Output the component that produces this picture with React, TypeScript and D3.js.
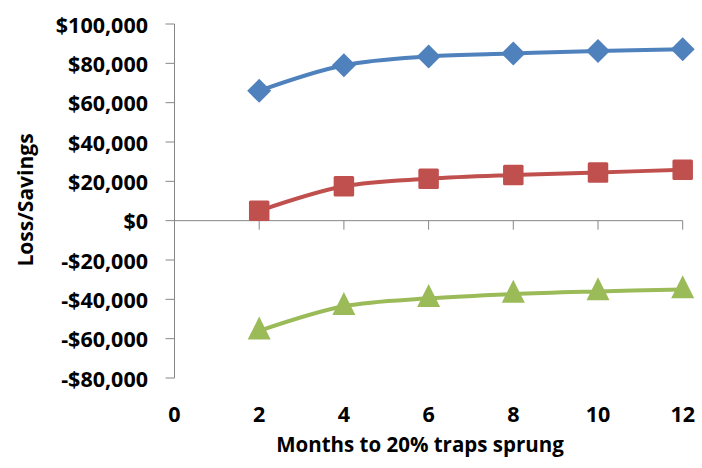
import React from "react";
import * as d3 from "d3";

const months = [2, 4, 6, 8, 10, 12];
const seriesBlue = [66000, 79000, 83500, 85000, 86300, 87100];
const seriesRed = [5000, 17500, 21300, 23200, 24500, 25900];
const seriesGreen = [-56000, -43500, -39500, -37300, -36000, -35000];
const yTicks = [100000, 80000, 60000, 40000, 20000, 0, -20000, -40000, -60000, -80000];
const xTicks = [0, 2, 4, 6, 8, 10, 12];

const W = 702;
const H = 468;
const FONT = "'Open Sans', sans-serif";

export default function App() {
  const x = d3.scaleLinear().domain([0, 12]).range([174.5, 682.7]);
  const y = d3.scaleLinear().domain([-80000, 100000]).range([378, 24]);
  const line = d3
    .line<number>()
    .x((_, i) => x(months[i]))
    .y((d) => y(d))
    .curve(d3.curveCatmullRom.alpha(0.5));
  const fmt = (v: number) =>
    (v < 0 ? "-$" : "$") + d3.format(",")(Math.abs(v));
  const axisColor = "#868686";

  const series = [
    { data: seriesBlue, color: "#4F81BD", shape: "diamond" },
    { data: seriesRed, color: "#C0504D", shape: "square" },
    { data: seriesGreen, color: "#9BBB59", shape: "triangle" },
  ];

  const marker = (shape: string, cx: number, cy: number, color: string, key: string) => {
    if (shape === "diamond") {
      const r = 12;
      return (
        <path key={key} d={`M${cx},${cy - r}L${cx + r},${cy}L${cx},${cy + r}L${cx - r},${cy}Z`} fill={color} />
      );
    }
    if (shape === "square") {
      const s = 20.5;
      return <rect key={key} x={cx - s / 2} y={cy - s / 2} width={s} height={s} rx={1.5} fill={color} />;
    }
    const w = 23;
    const h = 23;
    return (
      <path key={key} d={`M${cx},${cy - h * 0.62}L${cx + w / 2},${cy + h * 0.38}L${cx - w / 2},${cy + h * 0.38}Z`} fill={color} />
    );
  };

  return (
    <svg width={W} height={H} style={{ position: "absolute", left: 0, top: 0, background: "#fff" }}>
      {/* y axis */}
      <line x1={x(0)} x2={x(0)} y1={y(100000)} y2={y(-80000)} stroke={axisColor} strokeWidth={1} />
      {yTicks.map((t) => (
        <g key={t}>
          <line x1={x(0) - 9} x2={x(0)} y1={y(t)} y2={y(t)} stroke={axisColor} strokeWidth={1} />
          <text
            x={148}
            y={y(t)}
            textAnchor="end"
            dominantBaseline="central"
            fontFamily={FONT}
            fontWeight={700}
            fontSize={21.5}
            fill="#000"
          >
            {fmt(t)}
          </text>
        </g>
      ))}
      {/* x axis */}
      <line x1={x(0)} x2={x(12)} y1={y(0)} y2={y(0)} stroke={axisColor} strokeWidth={1} />
      {xTicks.map((t) => (
        <g key={t}>
          {t > 0 && <line x1={x(t)} x2={x(t)} y1={y(0)} y2={y(0) + 9} stroke={axisColor} strokeWidth={1} />}
          <text
            x={x(t)}
            y={413}
            textAnchor="middle"
            dominantBaseline="central"
            fontFamily={FONT}
            fontWeight={700}
            fontSize={21.5}
            fill="#000"
          >
            {t}
          </text>
        </g>
      ))}
      {/* series */}
      {series.map((s, si) => (
        <g key={si}>
          <path d={line(s.data) || ""} fill="none" stroke={s.color} strokeWidth={4} strokeLinejoin="round" />
          {s.data.map((v, i) => marker(s.shape, x(months[i]), y(v), s.color, `${si}-${i}`))}
        </g>
      ))}
      {/* axis titles */}
      <text
        x={420}
        y={444}
        textAnchor="middle"
        dominantBaseline="central"
        fontFamily={FONT}
        fontWeight={700}
        fontSize={20.5}
        fill="#000"
      >
        Months to 20% traps sprung
      </text>
      <text
        transform={`translate(25,${200}) rotate(-90)`}
        textAnchor="middle"
        dominantBaseline="central"
        fontFamily={FONT}
        fontWeight={700}
        fontSize={21}
        fill="#000"
      >
        Loss/Savings
      </text>
    </svg>
  );
}
